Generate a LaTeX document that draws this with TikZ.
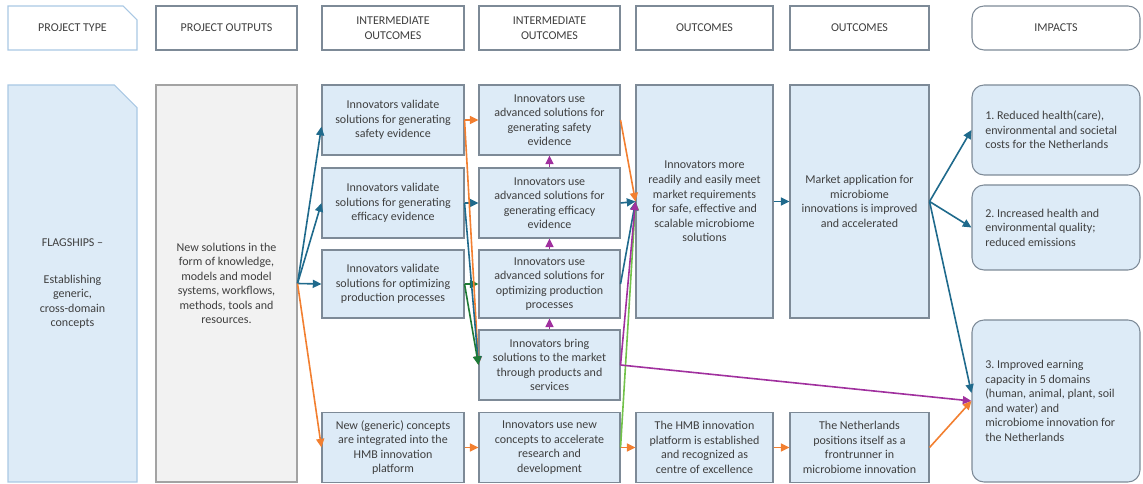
\documentclass[tikz,border=0pt]{standalone}
\usepackage{fontspec}
\setmainfont{Carlito}
\usetikzlibrary{arrows.meta,shapes.misc}
\definecolor{boxblue}{HTML}{DDEBF7}
\definecolor{boxline}{HTML}{7D8A97}
\definecolor{flagline}{HTML}{A9C8E4}
\definecolor{outgray}{HTML}{F2F2F2}
\definecolor{outline}{HTML}{A3A3A3}
\definecolor{txtgray}{HTML}{3F3F3F}
\definecolor{arrblue}{HTML}{1F6A8C}
\definecolor{arrorange}{HTML}{F27F30}
\definecolor{arrgreen}{HTML}{1E7A36}
\definecolor{arrlime}{HTML}{72C24A}
\definecolor{arrpurple}{HTML}{A0309E}
\begin{document}
\begin{tikzpicture}[x=0.75pt, y=-0.75pt,
        font=\fontsize{9}{10.9}\selectfont\frenchspacing,
        hdr/.style={draw=boxline, fill=white, text=txtgray, align=center, minimum height=33pt, inner sep=2pt, line width=0.8pt},
        box/.style={draw=boxline, fill=boxblue, text=txtgray, align=center, inner sep=2pt, line width=0.8pt, minimum height=52.5pt},
        impact/.style={box, rounded corners=9pt, align=flush left, text width=106pt, minimum width=126pt},
        arr/.style={-{Triangle[length=6.5pt,width=6pt]}, line width=1.2pt}]
        \useasboundingbox (0,0) rectangle (1143,484);

        \node[hdr, chamfered rectangle, chamfered rectangle corners=north east, chamfered rectangle xsep=6pt, chamfered rectangle ysep=5.5pt, draw=flagline, minimum width=96.75pt] (htype) at (72.5,28) {PROJECT TYPE};
        \node[hdr, minimum width=105.75pt] (hout) at (226.5,28) {PROJECT OUTPUTS};
        \node[hdr, minimum width=106.5pt] (hint) at (393,28) {INTERMEDIATE\\OUTCOMES};
        \node[hdr, minimum width=105.75pt] (hintb) at (549.5,28) {INTERMEDIATE\\OUTCOMES};
        \node[hdr, minimum width=102.75pt] (houtc) at (704.5,28) {OUTCOMES};
        \node[hdr, minimum width=104.25pt] (houtcb) at (859.5,28) {OUTCOMES};
        \node[hdr, rounded corners=9pt, minimum width=126pt] (himp) at (1056,28) {IMPACTS};

        \node[box, chamfered rectangle, chamfered rectangle corners=north east, chamfered rectangle xsep=9pt, chamfered rectangle ysep=8pt, draw=flagline, minimum width=96.75pt, minimum height=297.75pt] (flag) at (72.5,283.5) {FLAGSHIPS --\\[17pt]Establishing\\generic,\\cross-domain\\concepts};
        \node[box, fill=outgray, draw=outline, minimum width=105.75pt, minimum height=297.75pt] (sol) at (226.5,283.5) {New solutions in the\\form of knowledge,\\models and model\\systems, workflows,\\methods, tools and\\resources.};

        \node[box, minimum width=106.5pt] (valsafe) at (393,120) {Innovators validate\\solutions for generating\\safety evidence};
        \node[box, minimum width=106.5pt] (valeff) at (393,203) {Innovators validate\\solutions for generating\\efficacy evidence};
        \node[box, minimum width=106.5pt, minimum height=51pt] (valprod) at (393,284) {Innovators validate\\solutions for optimizing\\production processes};
        \node[box, minimum width=106.5pt] (concept) at (393,447.5) {New (generic) concepts\\are integrated into the\\HMB innovation\\platform};

        \node[box, minimum width=105.75pt] (usesafe) at (549.5,120) {Innovators use\\advanced solutions for\\generating safety\\evidence};
        \node[box, minimum width=105.75pt] (useeff) at (549.5,203) {Innovators use\\advanced solutions for\\generating efficacy\\evidence};
        \node[box, minimum width=105.75pt, minimum height=51pt] (useprod) at (549.5,284) {Innovators use\\advanced solutions for\\optimizing production\\processes};
        \node[box, minimum width=105.75pt] (bring) at (549.5,365) {Innovators bring\\solutions to the market\\through products and\\services};
        \node[box, minimum width=105.75pt] (usenew) at (549.5,447.5) {Innovators use new\\concepts to accelerate\\research and\\development};

        \node[box, minimum width=102.75pt, minimum height=174.75pt] (meet) at (704.5,201.5) {Innovators more\\readily and easily meet\\market requirements\\for safe, effective and\\scalable microbiome\\solutions};
        \node[box, minimum width=102.75pt] (platform) at (704.5,447.5) {The HMB innovation\\platform is established\\and recognized as\\centre of excellence};

        \node[box, minimum width=104.25pt, minimum height=174.75pt] (market) at (859.5,201.5) {Market application for\\microbiome\\innovations is improved\\and accelerated};
        \node[box, minimum width=104.25pt] (front) at (859.5,447.5) {The Netherlands\\positions itself as a\\frontrunner in\\microbiome innovation};

        \node[impact, minimum height=67.5pt] (costs) at (1056,130) {1. Reduced health(care),\\environmental and societal\\costs for the Netherlands};
        \node[impact, minimum height=63.75pt] (quality) at (1056,227.5) {2. Increased health and\\environmental quality;\\reduced emissions};
        \node[impact, minimum height=121.5pt] (earning) at (1056,401) {3. Improved earning\\capacity in 5 domains\\(human, animal, plant, soil\\and water) and\\microbiome innovation for\\the Netherlands};

        \draw[arr, arrblue] (sol.east) -- ([yshift=-5pt]valsafe.west);
        \draw[arr, arrblue] (sol.east) -- (valeff.west);
        \draw[arr, arrblue] (sol.east) -- (valprod.west);
        \draw[arr, arrorange] (sol.east) -- (concept.west);

        \draw[arr, arrorange] (valsafe.east) -- (usesafe.west);
        \draw[arr, arrblue] (valeff.east) -- (useeff.west);
        \draw[arr, arrgreen] (valprod.east) -- (useprod.west);
        \draw[arr, arrorange] (valsafe.east) -- (bring.west);
        \draw[arr, arrblue] (valeff.east) -- (bring.west);
        \draw[arr, arrgreen] (valprod.east) -- (bring.west);

        \draw[arr, arrpurple] (useeff.north) -- (usesafe.south);
        \draw[arr, arrpurple] (useprod.north) -- (useeff.south);
        \draw[arr, arrpurple] (bring.north) -- (useprod.south);

        \draw[arr, arrlime] (usenew.east) -- (meet.west);
        \draw[arr, arrblue] (useprod.east) -- (meet.west);
        \draw[arr, arrorange] (usesafe.east) -- (meet.west);
        \draw[arr, arrblue] (useeff.east) -- (meet.west);
        \draw[arr, arrpurple] (bring.east) -- (meet.west);
        \draw[arr, arrpurple] (bring.east) -- (earning.west);

        \draw[arr, arrorange] (concept.east) -- (usenew.west);
        \draw[arr, arrorange] (usenew.east) -- (platform.west);
        \draw[arr, arrorange] (platform.east) -- (front.west);
        \draw[arr, arrorange] (front.east) -- (earning.west);

        \draw[arr, arrblue] (meet.east) -- (market.west);
        \draw[arr, arrblue] (market.east) -- (costs.west);
        \draw[arr, arrblue] (market.east) -- (quality.west);
        \draw[arr, arrblue] (market.east) -- ([yshift=6pt]earning.west);
\end{tikzpicture}
\end{document}
